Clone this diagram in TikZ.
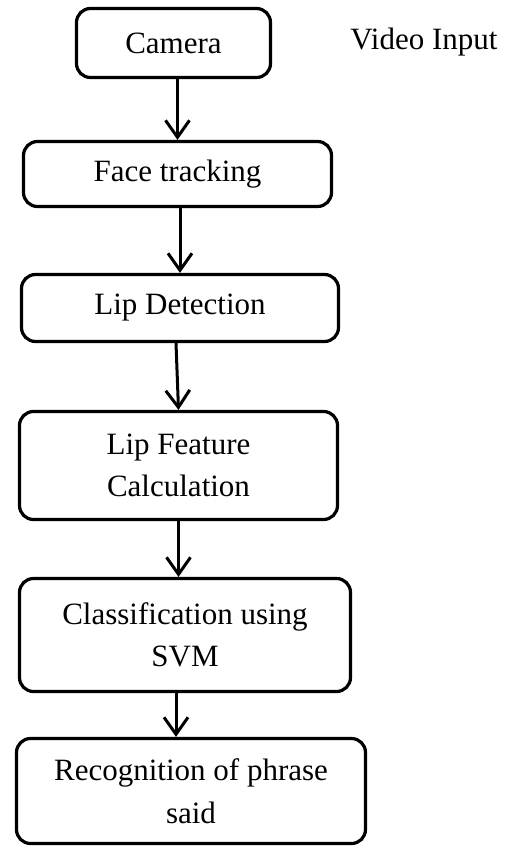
\documentclass[tikz,border=0pt]{standalone}
\usepackage{fontspec}
\setmainfont{Liberation Serif}
\usetikzlibrary{arrows.meta,positioning}

\tikzset{
    box/.style={draw, line width=3.2pt, rounded corners=14pt, fill=white, align=center, inner sep=0pt},
    flow/.style={-{Straight Barb[length=17pt,width=24pt]}, line width=3pt},
}

\begin{document}
\begin{tikzpicture}[x=1pt, y=-1pt, font=\fontsize{31}{42.5}\selectfont]
    \useasboundingbox (0,0) rectangle (511,846);

    \node[box, minimum width=194pt, minimum height=69pt] (cam) at (173.5,43) {Camera};
    \node (vin) at (424,42) {Video Input};
    \node[box, minimum width=308pt, minimum height=65pt] (face) at (177.5,174) {Face tracking};
    \node[box, minimum width=317pt, minimum height=67pt] (lip) at (180,308) {Lip Detection};
    \node[box, minimum width=318pt, minimum height=108pt] (feat) at (178.5,465.5) {Lip Feature\\Calculation};
    \node[box, minimum width=331pt, minimum height=113pt] (svm) at (185,635) {Classification using\\SVM};
    \node[box, minimum width=349pt, minimum height=105pt] (recog) at (191,791) {Recognition of phrase\\said};

    \draw[flow] (cam.south -| face.north) -- (face.north);
    \draw[flow] (face.south -| lip.north) -- (lip.north);
    \draw[flow] ([xshift=-4pt]lip.south) -- (feat.north);
    \draw[flow] (feat.south) -- (feat.south |- svm.north);
    \draw[flow] ([xshift=-9pt]svm.south) -- ([xshift=-15pt]recog.north);
\end{tikzpicture}
\end{document}
